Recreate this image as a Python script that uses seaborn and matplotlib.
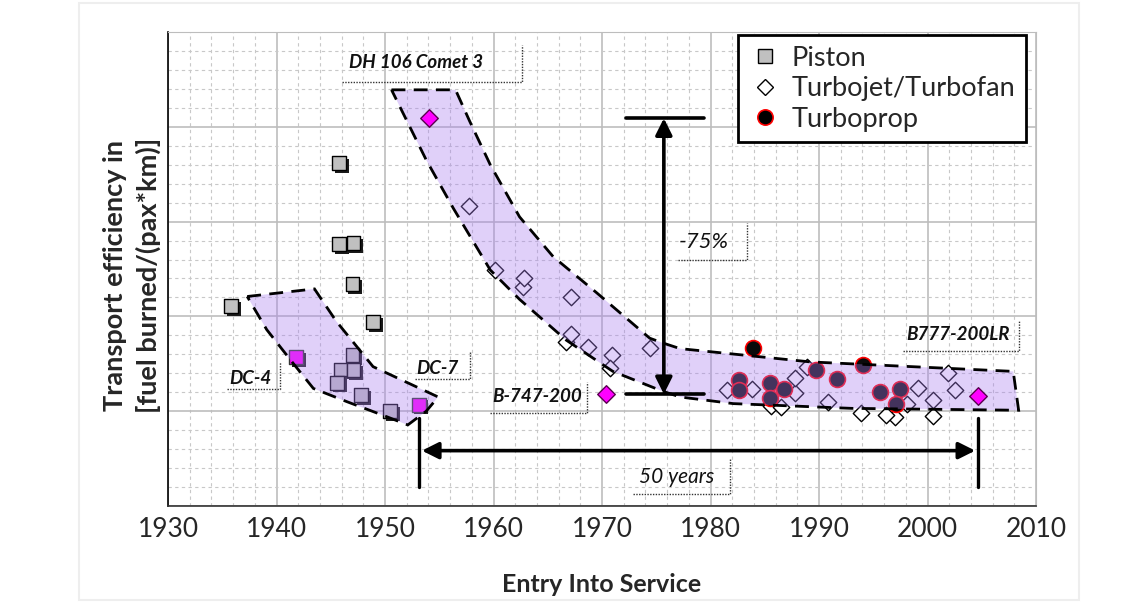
import pandas as pd
import matplotlib.pyplot as plt
import matplotlib.patheffects as pe
from matplotlib.lines import Line2D
from matplotlib.patches import Polygon, Rectangle
from matplotlib.ticker import MultipleLocator
import seaborn as sns

sns.set_style('white')
plt.rcParams['font.family'] = ['Lato', 'DejaVu Sans']

# Piston aircraft (entry into service, relative fuel burn)
piston_year = [1935.8, 1945.8, 1945.8, 1947.1, 1947.0, 1948.9, 1947.0, 1945.9,
               1947.1, 1945.6, 1947.8, 1950.5]
piston_eff = [2.11, 3.62, 2.76, 2.77, 2.34, 1.94, 1.59, 1.44,
              1.43, 1.30, 1.17, 1.00]

# Turbojet / turbofan aircraft
jet_year = [1957.7, 1960.1, 1962.7, 1962.8, 1967.1, 1966.7, 1967.1, 1968.7,
            1970.9, 1970.7, 1974.4, 1981.5, 1983.8, 1985.6, 1986.5, 1987.8,
            1987.8, 1988.9, 1990.8, 1993.9, 1997.0, 1996.2, 1998.1, 1999.1,
            2000.5, 2001.9, 2002.5, 2000.5]
jet_eff = [3.16, 2.49, 2.31, 2.41, 2.20, 1.73, 1.81, 1.68,
           1.59, 1.46, 1.67, 1.22, 1.23, 1.05, 1.04, 1.19,
           1.35, 1.47, 1.10, 0.985, 0.94, 0.96, 1.08, 1.25,
           0.95, 1.40, 1.22, 1.12]

# Turboprop aircraft
prop_year = [1983.9, 1982.6, 1982.6, 1985.5, 1985.5, 1986.8, 1989.7, 1991.7,
             1994.1, 1995.6, 1997.5, 1997.1]
prop_eff = [1.67, 1.33, 1.22, 1.30, 1.14, 1.23, 1.43, 1.34,
            1.49, 1.20, 1.23, 1.08]

# Highlighted aircraft
hl_sq_names = ['DC-4', 'DC-7']
hl_sq_year = [1941.8, 1953.1]
hl_sq_eff = [1.57, 1.07]
hl_dia_names = ['DH 106 Comet 3', 'B-747-200', 'B777-200LR']
hl_dia_year = [1954.1, 1970.4, 2004.7]
hl_dia_eff = [4.09, 1.18, 1.16]

# Shaded envelopes
piston_band_x = [1937.3, 1943.5, 1945.5, 1948.9, 1954.9, 1953.8, 1952.1,
                 1950.2, 1946.5, 1943.4, 1941.5, 1939.1]
piston_band_y = [2.21, 2.29, 1.95, 1.47, 1.15, 1.00, 0.855,
                 0.94, 1.10, 1.24, 1.51, 1.86]
jet_band_x = [1950.6, 1956.5, 1957.8, 1959.7, 1962.4, 1965.5, 1969.5, 1974.4,
              1975.6, 1977.2, 1989.2, 2007.9, 2008.4, 1993.0, 1982.1, 1977.2,
              1975.6, 1971.0, 1966.7, 1962.4, 1959.7, 1956.3, 1953.8]
jet_band_y = [4.39, 4.39, 4.06, 3.60, 3.05, 2.63, 2.25, 1.77,
              1.72, 1.66, 1.52, 1.42, 1.01, 1.03, 1.08, 1.15,
              1.21, 1.42, 1.75, 2.18, 2.49, 3.14, 3.65]

fig = plt.figure(figsize=(11.4, 6.02), dpi=100)
ax = fig.add_axes([168 / 1140, 96 / 602, 868 / 1140, 474 / 602])

# faint chart-area frame
fig.patches.append(Rectangle((79 / 1140, 2 / 602), 1000 / 1140, 597 / 602,
                             transform=fig.transFigure, fill=False,
                             edgecolor='#eeeeee', lw=1.5))

shadow = [pe.SimplePatchShadow(offset=(2, -2), shadow_rgbFace='#1a1a1a', alpha=1), pe.Normal()]

sns.scatterplot(x=piston_year, y=piston_eff, marker='s', s=100, color='#c0c0c0',
                edgecolor='black', linewidth=1, ax=ax, zorder=3)
ax.collections[-1].set_path_effects(shadow)
sns.scatterplot(x=hl_sq_year, y=hl_sq_eff, marker='s', s=100, color='#ff00ff',
                edgecolor='#333333', linewidth=1, ax=ax, zorder=3)
ax.collections[-1].set_path_effects(shadow)
sns.scatterplot(x=jet_year, y=jet_eff, marker='D', s=70, color='white',
                edgecolor='black', linewidth=1, ax=ax, zorder=3)
sns.scatterplot(x=prop_year, y=prop_eff, marker='o', s=130, color='#0a0a0a',
                edgecolor='#ff0000', linewidth=1.2, ax=ax, zorder=3)
sns.scatterplot(x=hl_dia_year, y=hl_dia_eff, marker='D', s=80, color='#ff00ff',
                edgecolor='#5a0050', linewidth=1, ax=ax, zorder=6)

for bx, by in [(piston_band_x, piston_band_y), (jet_band_x, jet_band_y)]:
    pts = list(zip(bx, by))
    ax.add_patch(Polygon(pts, closed=True, facecolor='#a97ef1', alpha=0.36,
                         edgecolor='none', zorder=4))
    ax.add_patch(Polygon(pts, closed=True, fill=False, edgecolor='black',
                         lw=2, ls=(0, (5, 3)), zorder=5))


def box_label(cx, cy, text, left, right, bottom, top, size=13.5, bold=True):
    ax.text(cx, cy, text, ha='center', va='center', fontsize=size,
            style='italic', fontweight='bold' if bold else 'normal',
            color='#111111', zorder=7)
    ax.plot([left, right, right], [bottom, bottom, top], color='#333333',
            lw=1, ls=(0, (1, 1)), zorder=7)


box_label(1952.9, 4.68, 'DH 106 Comet 3', 1946.0, 1962.6, 4.47, 4.86)
box_label(1937.6, 1.35, 'DC-4', 1935.4, 1940.3, 1.23, 1.52)
box_label(1954.8, 1.45, 'DC-7', 1952.8, 1957.8, 1.34, 1.63)
box_label(1964.0, 1.155, 'B-747-200', 1959.7, 1968.6, 0.985, 1.31)
box_label(2002.8, 1.81, 'B777-200LR', 1997.7, 2008.4, 1.64, 1.96)
box_label(1979.4, 2.78, '-75%', 1977.0, 1983.4, 2.59, 2.98, size=16, bold=False)
box_label(1976.9, 0.31, '50 years', 1972.9, 1981.8, 0.127, 0.50, size=15, bold=False)

# -75% arrow between Comet 3 and B-747-200
top_y, bot_y = hl_dia_eff[0], hl_dia_eff[1]
ax.annotate('', xy=(1975.7, top_y), xytext=(1975.7, bot_y),
            arrowprops=dict(arrowstyle='<|-|>', lw=2.6, color='black',
                            mutation_scale=25, shrinkA=0, shrinkB=0), zorder=8)
ax.plot([1972.2, 1979.4], [top_y, top_y], color='black', lw=2.6, zorder=8)
ax.plot([1972.2, 1979.4], [bot_y, bot_y], color='black', lw=2.6, zorder=8)

# 50 years arrow between DC-7 and B777-200LR
left_x, right_x = hl_sq_year[1], hl_dia_year[2]
ax.annotate('', xy=(left_x + 0.3, 0.584), xytext=(right_x - 0.3, 0.584),
            arrowprops=dict(arrowstyle='<|-|>', lw=2.6, color='black',
                            mutation_scale=25, shrinkA=0, shrinkB=0), zorder=8)
ax.plot([left_x, left_x], [0.20, 0.93], color='black', lw=2.4, zorder=8)
ax.plot([right_x, right_x], [0.20, 0.93], color='black', lw=2.4, zorder=8)

ax.set_xlim(1930, 2010)
ax.set_ylim(0, 5)
ax.xaxis.set_major_locator(MultipleLocator(10))
ax.xaxis.set_minor_locator(MultipleLocator(2))
ax.yaxis.set_major_locator(MultipleLocator(1))
ax.yaxis.set_minor_locator(MultipleLocator(0.2))
ax.grid(which='major', color='#bdbdbd', lw=1.2, zorder=0)
ax.grid(which='minor', color='#c8c8c8', lw=0.8, ls=(0, (3, 3)), zorder=0)
ax.set_axisbelow(True)
ax.tick_params(axis='x', which='major', length=7, width=1, color='#333333',
               direction='out', labelsize=19, pad=1)
ax.tick_params(axis='x', which='minor', length=0)
ax.tick_params(axis='y', which='both', length=0, labelleft=False)
for side in ['top', 'right']:
    ax.spines[side].set_color('#bdbdbd')
ax.spines['left'].set_color('black')
ax.spines['bottom'].set_color('#333333')
for side in ['left', 'bottom']:
    ax.spines[side].set_linewidth(1.2)

fig.text(602 / 1140, 1 - 585 / 602, 'Entry Into Service', ha='center', va='center',
         fontsize=18, fontweight='bold')
fig.text(132 / 1140, 1 - 275 / 602, 'Transport efficiency in\n[fuel burned/(pax*km)]',
         ha='center', va='center', rotation=90, fontsize=19.5, fontweight='bold',
         linespacing=1.4, multialignment='center')

handles = [
    Line2D([], [], ls='none', marker='s', ms=10, mfc='#c0c0c0', mec='black', mew=1),
    Line2D([], [], ls='none', marker='D', ms=8, mfc='white', mec='black', mew=1),
    Line2D([], [], ls='none', marker='o', ms=11, mfc='black', mec='#ff0000', mew=1.2),
]
leg = ax.legend(handles, ['Piston', 'Turbojet/Turbofan', 'Turboprop'],
                loc='upper right', bbox_to_anchor=(0.989, 0.994), fontsize=19.5,
                frameon=True, fancybox=False, framealpha=1, edgecolor='black',
                labelspacing=0.2, handletextpad=0.4, handlelength=1.2,
                borderpad=0.4, borderaxespad=0)
leg.get_frame().set_linewidth(2)
leg.set_zorder(10)

fig.savefig('out.png', dpi=100)
